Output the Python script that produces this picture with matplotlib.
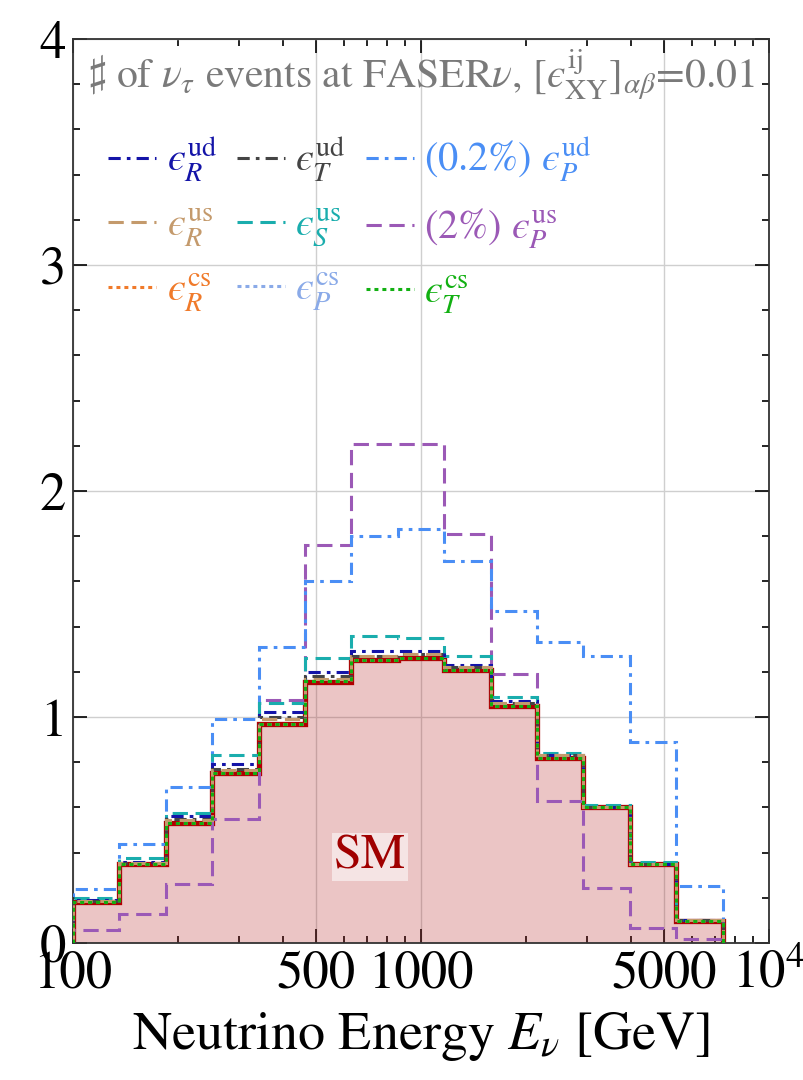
import numpy as np
import matplotlib
matplotlib.use("Agg")
import matplotlib.pyplot as plt
from matplotlib.ticker import FixedLocator, LogLocator, MultipleLocator, NullFormatter

plt.rcParams['font.family'] = ['STIXGeneral', 'DejaVu Serif']
plt.rcParams['mathtext.fontset'] = 'stix'

# 14 log bins, 7.5 bins per decade, starting at 100 GeV
edges = 100 * 10 ** (np.arange(15) * 2 / 15)

# event counts per bin
sm = [0.18, 0.35, 0.53, 0.75, 0.97, 1.155, 1.25, 1.26, 1.21, 1.05, 0.82, 0.60, 0.35, 0.097]
eps_R_ud = [0.19, 0.36, 0.56, 0.79, 1.02, 1.20, 1.29, 1.29, 1.23, 1.07, 0.83, 0.60, 0.35, 0.10]
eps_T_ud = [0.185, 0.355, 0.55, 0.77, 1.00, 1.18, 1.27, 1.28, 1.22, 1.06, 0.83, 0.60, 0.35, 0.10]
eps_P_ud = [0.24, 0.44, 0.69, 0.99, 1.31, 1.60, 1.80, 1.83, 1.69, 1.47, 1.33, 1.27, 0.89, 0.25]
eps_R_us = [0.185, 0.355, 0.545, 0.765, 0.99, 1.17, 1.27, 1.28, 1.22, 1.06, 0.83, 0.60, 0.35, 0.10]
eps_S_us = [0.20, 0.375, 0.577, 0.83, 1.06, 1.26, 1.36, 1.35, 1.27, 1.09, 0.84, 0.61, 0.36, 0.10]
eps_P_us = [0.057, 0.13, 0.26, 0.55, 1.075, 1.76, 2.21, 2.21, 1.81, 1.19, 0.63, 0.245, 0.067, 0.016]
eps_R_cs = [0.18, 0.35, 0.53, 0.75, 0.97, 1.16, 1.25, 1.26, 1.21, 1.05, 0.82, 0.60, 0.35, 0.097]
eps_P_cs = [0.18, 0.35, 0.53, 0.75, 0.97, 1.16, 1.25, 1.26, 1.21, 1.05, 0.82, 0.60, 0.35, 0.097]
eps_T_cs = [0.18, 0.35, 0.53, 0.75, 0.97, 1.16, 1.25, 1.26, 1.21, 1.05, 0.82, 0.60, 0.35, 0.097]

E = '\u03f5'  # lunate epsilon

fig = plt.figure(figsize=(8.04, 10.8), dpi=100)
ax = fig.add_axes([0.0908, 0.1269, 0.8657, 0.8370])

# SM histogram: shaded + thick red outline
ax.stairs(sm, edges, fill=True, color='#B22222', alpha=0.26, lw=0, zorder=1)
ax.stairs(sm, edges, color='#B00000', lw=3.8, zorder=2)

lw = 2.2
dd = (0, (4, 2, 1.2, 2))   # dash-dot
da = (0, (5, 2.5))         # dashed
do = (0, (1.3, 1.3))       # dotted

series = [
    (eps_P_us, '#9B59B6', da, '(2%) $' + E + r'_P^{\rm us}$'),
    (eps_P_ud, '#4A8EF5', dd, '(0.2%) $' + E + r'_P^{\rm ud}$'),
    (eps_S_us, '#1AADAD', da, '$' + E + r'_S^{\rm us}$'),
    (eps_R_ud, '#1414A8', dd, '$' + E + r'_R^{\rm ud}$'),
    (eps_T_ud, '#444444', dd, '$' + E + r'_T^{\rm ud}$'),
    (eps_R_us, '#C49A6C', da, '$' + E + r'_R^{\rm us}$'),
    (eps_P_cs, '#8AAAE8', do, '$' + E + r'_P^{\rm cs}$'),
    (eps_R_cs, '#F07A2A', do, '$' + E + r'_R^{\rm cs}$'),
    (eps_T_cs, '#12B012', do, '$' + E + r'_T^{\rm cs}$'),
]
style = {}
for vals, col, ls, lab in series:
    ax.stairs(vals, edges, color=col, lw=lw, linestyle=ls, zorder=3, label=lab)
    style[lab] = (col, ls)

# legend, filled column-wise to reproduce the 3x3 row layout
labs = [s[3] for s in series]
order = [labs[3], labs[5], labs[7], labs[4], labs[2], labs[6], labs[1], labs[0], labs[8]]
leg_lines = [plt.Line2D([], [], color=style[k][0], lw=lw, linestyle=style[k][1]) for k in order]
leg = ax.legend(leg_lines, order, ncol=3, loc='upper left', bbox_to_anchor=(0.01, 0.925),
                frameon=False, fontsize=29, handlelength=1.2, handletextpad=0.25,
                columnspacing=0.5, labelspacing=0.55, borderpad=0.2)
for txt, k in zip(leg.get_texts(), order):
    txt.set_color(style[k][0])

ax.text(0.5, 0.99, r'$\sharp$ of $\nu_\tau$ events at FASER$\nu$, $[' + E + r'^{\rm ij}_{\rm XY}]_{\alpha\beta}$=0.01',
        transform=ax.transAxes, ha='center', va='top', color='#7A7A7A', fontsize=30)

ax.text(714, 0.38, 'SM', color='#A00000', fontsize=36, ha='center', va='center',
        bbox=dict(facecolor='white', alpha=0.55, edgecolor='none', pad=1))

ax.set_xscale('log')
ax.set_xlim(100, 1e4)
ax.set_ylim(0, 4)
ax.xaxis.set_major_locator(FixedLocator([100, 500, 1000, 5000, 10000]))
ax.set_xticklabels(['100', '500', '1000', '5000', r'$10^4$'])
ax.xaxis.set_minor_locator(LogLocator(base=10, subs=np.arange(2, 10)))
ax.xaxis.set_minor_formatter(NullFormatter())
ax.yaxis.set_major_locator(MultipleLocator(1))
ax.yaxis.set_minor_locator(MultipleLocator(0.2))

ax.grid(True, which='major', color='#CFCFCF', lw=1.0, zorder=0)
ax.set_axisbelow(True)
ax.tick_params(which='both', direction='in', top=True, right=True, labelsize=38, width=1.2)
ax.tick_params(which='major', length=10, pad=5)
ax.tick_params(which='minor', length=5)
for sp in ax.spines.values():
    sp.set_linewidth(1.3)
    sp.set_color('#333333')

ax.set_xlabel(r'Neutrino Energy $E_\nu$ [GeV]', fontsize=39, labelpad=8)

fig.savefig('out.png', dpi=100)
